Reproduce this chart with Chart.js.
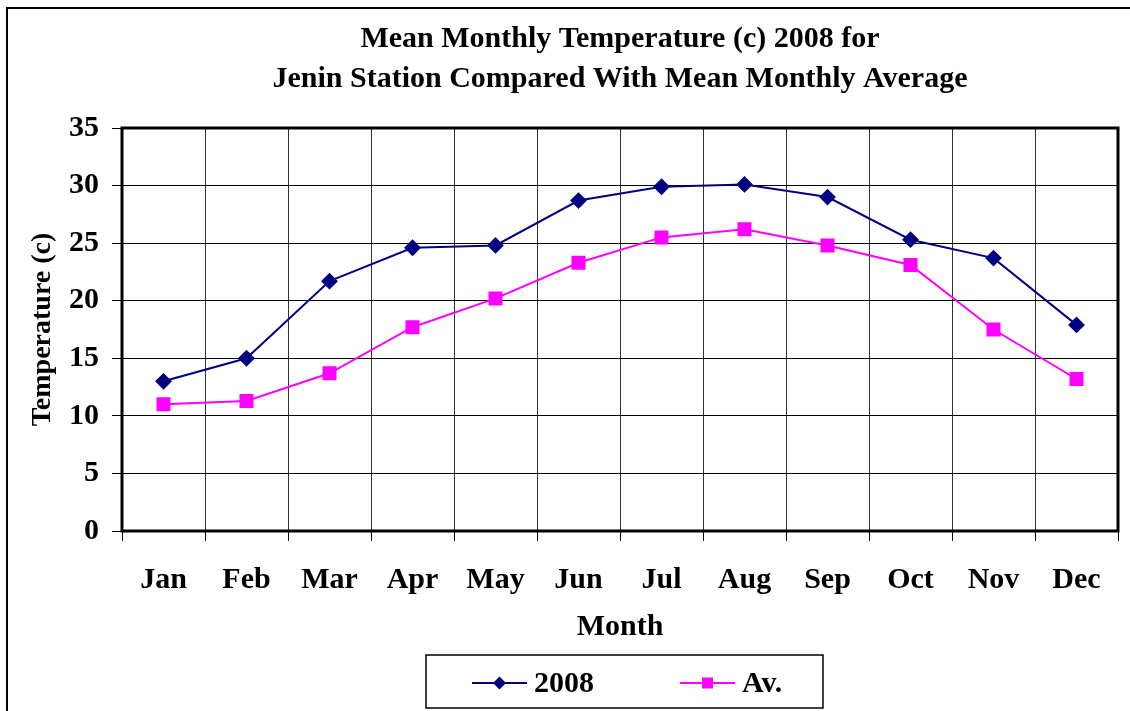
<!DOCTYPE html>
<html>
<head>
<meta charset="utf-8">
<title>Mean Monthly Temperature 2008 - Jenin</title>
<script src="https://cdn.jsdelivr.net/npm/chart.js@4.4.1/dist/chart.umd.min.js"></script>
<style>
  html, body { margin: 0; padding: 0; background: #fff; }
  canvas { display: block; }
</style>
</head>
<body>
<canvas id="tempChart" width="1130" height="711"></canvas>
<script>
const months = ['Jan', 'Feb', 'Mar', 'Apr', 'May', 'Jun', 'Jul', 'Aug', 'Sep', 'Oct', 'Nov', 'Dec'];
const temp2008 = [13.0, 15.0, 21.7, 24.6, 24.8, 28.7, 29.9, 30.1, 29.0, 25.3, 23.7, 17.9];
const tempAvg = [11.0, 11.3, 13.7, 17.7, 20.2, 23.3, 25.5, 26.2, 24.8, 23.1, 17.5, 13.2];
const yTicks = [0, 5, 10, 15, 20, 25, 30, 35];

const FONT = "'Liberation Serif', 'Times New Roman', serif";
const NAVY = '#000080';
const MAGENTA = '#FF00FF';

// frame around the whole picture + thick box around plot
const framePlugin = {
  id: 'frames',
  afterDraw(chart) {
    const ctx = chart.ctx;
    const a = chart.chartArea;
    ctx.save();
    ctx.strokeStyle = '#000';
    ctx.lineWidth = 2;
    ctx.strokeRect(7, 8, chart.width + 20, chart.height + 20);
    ctx.lineWidth = 3;
    ctx.strokeRect(a.left, a.top, a.right - a.left, a.bottom - a.top);
    ctx.restore();
  }
};

// boxed legend with line-through-marker samples
const legendPlugin = {
  id: 'boxLegend',
  afterDraw(chart) {
    const ctx = chart.ctx;
    const a = chart.chartArea;
    const boxW = 397, boxH = 53;
    const bx = Math.round((a.left + a.right) / 2 + 4 - boxW / 2);
    const by = a.bottom + 124;
    ctx.save();
    ctx.fillStyle = '#fff';
    ctx.fillRect(bx, by, boxW, boxH);
    ctx.strokeStyle = '#000';
    ctx.lineWidth = 1.5;
    ctx.strokeRect(bx, by, boxW, boxH);

    ctx.font = 'bold 30px ' + FONT;
    ctx.textBaseline = 'middle';
    ctx.textAlign = 'left';
    const cy = by + 28;
    let x = bx + 46;
    chart.data.datasets.forEach((ds) => {
      ctx.strokeStyle = ds.borderColor;
      ctx.lineWidth = 2;
      ctx.beginPath();
      ctx.moveTo(x, cy);
      ctx.lineTo(x + 55, cy);
      ctx.stroke();
      ctx.fillStyle = ds.borderColor;
      const mx = x + 27.5;
      if (ds.pointStyle === 'rectRot') {
        ctx.beginPath();
        ctx.moveTo(mx, cy - 6.5);
        ctx.lineTo(mx + 6.5, cy);
        ctx.lineTo(mx, cy + 6.5);
        ctx.lineTo(mx - 6.5, cy);
        ctx.closePath();
        ctx.fill();
      } else {
        ctx.fillRect(mx - 5.5, cy - 5.5, 11, 11);
      }
      ctx.fillStyle = '#000';
      ctx.fillText(ds.label, x + 62, cy + 1);
      x += 62 + ctx.measureText(ds.label).width + 86;
    });
    ctx.restore();
  }
};

new Chart(document.getElementById('tempChart'), {
  type: 'line',
  data: {
    labels: months,
    datasets: [
      {
        label: '2008',
        data: temp2008,
        borderColor: NAVY,
        backgroundColor: NAVY,
        borderWidth: 2,
        pointStyle: 'rectRot',
        pointRadius: 7,
        pointHoverRadius: 7,
        tension: 0,
        clip: false
      },
      {
        label: 'Av.',
        data: tempAvg,
        borderColor: MAGENTA,
        backgroundColor: MAGENTA,
        borderWidth: 2,
        pointStyle: 'rect',
        pointRadius: 8.5,
        pointHoverRadius: 8.5,
        tension: 0,
        clip: false
      }
    ]
  },
  options: {
    responsive: false,
    animation: false,
    events: [],
    layout: { padding: { top: 0, right: 12, bottom: 60, left: 0 } },
    plugins: {
      legend: { display: false },
      tooltip: { enabled: false },
      title: {
        display: true,
        fullSize: false,
        text: ['Mean Monthly Temperature (c) 2008 for', 'Jenin Station Compared With Mean Monthly Average'],
        color: '#000',
        font: { family: FONT, size: 30, weight: 'bold', lineHeight: 40 / 30 },
        padding: { top: 19, bottom: 29 }
      }
    },
    scales: {
      x: {
        offset: true,
        grid: {
          offset: true,
          color: '#333',
          lineWidth: 1,
          drawTicks: true,
          tickLength: 10,
          tickColor: '#000'
        },
        border: { display: false },
        ticks: {
          color: '#000',
          padding: 21,
          maxRotation: 0,
          autoSkip: false,
          font: { family: FONT, size: 30, weight: 'bold', lineHeight: 1.2 }
        },
        title: {
          display: true,
          text: 'Month',
          color: '#000',
          font: { family: FONT, size: 30, weight: 'bold', lineHeight: 1.2 },
          padding: { top: 0, bottom: 6 }
        },
        afterFit(scale) { scale.height = 120; }
      },
      y: {
        min: 0,
        max: 35,
        afterBuildTicks(scale) { scale.ticks = yTicks.map(v => ({ value: v })); },
        grid: {
          color: '#000',
          lineWidth: 1,
          drawTicks: true,
          tickLength: 10,
          tickColor: '#000'
        },
        border: { display: false },
        ticks: {
          color: '#000',
          padding: 13,
          font: { family: FONT, size: 30, weight: 'bold', lineHeight: 1.2 }
        },
        title: {
          display: true,
          text: 'Temperature (c)',
          color: '#000',
          font: { family: FONT, size: 28, weight: 'bold', lineHeight: 1.2 },
          padding: { top: 26, bottom: 0 }
        },
        afterFit(scale) { scale.width = 122; }
      }
    }
  },
  plugins: [framePlugin, legendPlugin]
});
</script>
</body>
</html>
